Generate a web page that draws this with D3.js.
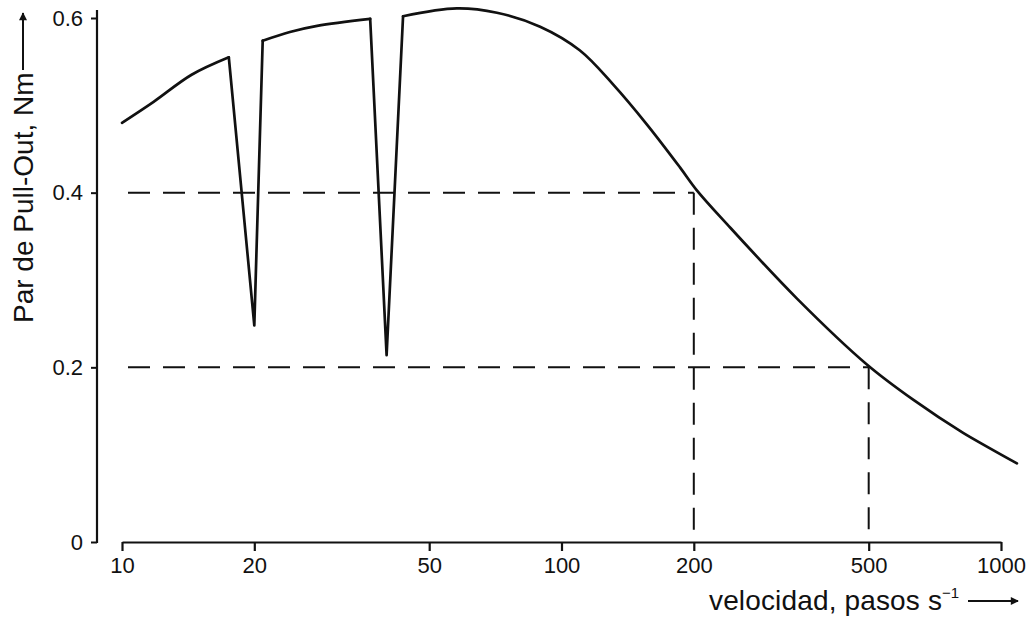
<!DOCTYPE html>
<html>
<head>
<meta charset="utf-8">
<script src="https://cdn.jsdelivr.net/npm/d3@7"></script>
<style>
body { margin: 0; background: #fff; }
svg { display: block; font-family: "Liberation Sans", Arial, sans-serif; }
</style>
</head>
<body>
<svg id="chart" width="1026" height="618"></svg>
<script>
'use strict';

// pull-out torque curve (speed in pasos/s, torque in Nm)
const speedA = [10, 11.8, 14.4, 17.5];
const torqueA = [0.48, 0.504, 0.535, 0.555];
const dipSpeed1 = [17.5, 20, 20.9];
const dipTorque1 = [0.555, 0.248, 0.574];
const speedB = [20.9, 24.1, 27.8, 36.7];
const torqueB = [0.574, 0.584, 0.591, 0.599];
const dipSpeed2 = [36.7, 40, 43.6];
const dipTorque2 = [0.599, 0.214, 0.602];
const speedC = [43.6, 57.8, 71.3, 89.4, 110, 131, 156.5, 186, 203, 238, 343, 496, 631, 820, 1087];
const torqueC = [0.602, 0.611, 0.606, 0.590, 0.563, 0.524, 0.478, 0.429, 0.403, 0.364, 0.279, 0.203, 0.163, 0.125, 0.090];

// dashed reading lines
const refSpeeds = [200, 500];
const refTorques = [0.4, 0.2];

// ticks
const xTicks = [10, 20, 50, 100, 200, 500, 1000];
const yTicks = [0, 0.2, 0.4, 0.6];
const yTickLabels = ['0', '0.2', '0.4', '0.6'];

(function () {
    const svg = d3.select('#chart');
    const font = '"Liberation Sans", Arial, sans-serif';
    const ink = '#111';

    const x = d3.scaleLog().domain([10, 1000]).range([122, 1001]);
    const y = d3.scaleLinear().domain([0, 0.6]).range([542, 18]);

    //x axis
    const gx = svg.append('g')
        .attr('transform', 'translate(0,' + y(0) + ')')
        .call(d3.axisBottom(x)
            .tickValues(xTicks)
            .tickFormat(d3.format('d'))
            .tickSize(9)
            .tickSizeOuter(0)
            .tickPadding(6));
    gx.attr('font-size', 22).attr('font-family', font);
    gx.select('.domain').attr('stroke', ink).attr('stroke-width', 2.2);
    gx.selectAll('.tick line').attr('stroke', ink).attr('stroke-width', 2.2);
    gx.selectAll('.tick text').attr('fill', ink);

    //y axis
    const gy = svg.append('g')
        .attr('transform', 'translate(97,0)')
        .call(d3.axisLeft(y)
            .tickValues(yTicks)
            .tickFormat((d, i) => yTickLabels[i])
            .tickSize(6)
            .tickPadding(8));
    gy.attr('font-size', 22).attr('font-family', font);
    gy.select('.domain').remove();
    gy.append('line')
        .attr('y1', y(0) + 1)
        .attr('y2', y(0.6) - 8)
        .attr('stroke', ink)
        .attr('stroke-width', 2.2);
    gy.selectAll('.tick line').attr('stroke', ink).attr('stroke-width', 2);
    gy.selectAll('.tick text').attr('fill', ink);

    //dashed reading lines
    const dash = svg.append('g')
        .attr('fill', 'none')
        .attr('stroke', ink)
        .attr('stroke-width', 2)
        .attr('stroke-dasharray', '22,13');
    refSpeeds.forEach((s, i) => {
        dash.append('line')
            .attr('x1', x(10) + 6).attr('x2', x(s))
            .attr('y1', y(refTorques[i])).attr('y2', y(refTorques[i]));
        dash.append('line')
            .attr('x1', x(s)).attr('x2', x(s))
            .attr('y1', y(refTorques[i])).attr('y2', y(0));
    });

    //curve
    const pairs = (s, t) => s.map((v, i) => [v, t[i]]);
    const smooth = d3.line().x(d => x(d[0])).y(d => y(d[1])).curve(d3.curveCatmullRom.alpha(0.5));
    const straight = d3.line().x(d => x(d[0])).y(d => y(d[1]));
    const curve = svg.append('g')
        .attr('fill', 'none')
        .attr('stroke', ink)
        .attr('stroke-width', 2.7)
        .attr('stroke-linecap', 'round')
        .attr('stroke-linejoin', 'round');
    [[speedA, torqueA], [speedB, torqueB], [speedC, torqueC]].forEach(p => {
        curve.append('path').attr('d', smooth(pairs(p[0], p[1])));
    });
    [[dipSpeed1, dipTorque1], [dipSpeed2, dipTorque2]].forEach(p => {
        curve.append('path').attr('d', straight(pairs(p[0], p[1])));
    });

    //arrow heads
    svg.append('defs').append('marker')
        .attr('id', 'head')
        .attr('viewBox', '0 0 10 10')
        .attr('refX', 9).attr('refY', 5)
        .attr('markerWidth', 10).attr('markerHeight', 8)
        .attr('markerUnits', 'userSpaceOnUse')
        .attr('orient', 'auto')
        .append('path')
        .attr('d', 'M0,0L10,5L0,10Z')
        .attr('fill', ink);

    //x title
    const xt = svg.append('text')
        .attr('x', 709).attr('y', 610)
        .attr('font-size', 28)
        .attr('letter-spacing', 0.15)
        .attr('font-family', font)
        .attr('fill', ink)
        .text('velocidad, pasos s');
    xt.append('tspan')
        .attr('font-size', 15)
        .attr('dy', -12)
        .attr('letter-spacing', 0)
        .text('\u22121');
    svg.append('line')
        .attr('x1', 968).attr('x2', 1018)
        .attr('y1', 601).attr('y2', 601)
        .attr('stroke', ink).attr('stroke-width', 2)
        .attr('marker-end', 'url(#head)');

    //y title
    svg.append('text')
        .attr('transform', 'translate(33,323) rotate(-90)')
        .attr('font-size', 28)
        .attr('font-family', font)
        .attr('fill', ink)
        .text('Par de Pull-Out, Nm');
    svg.append('line')
        .attr('x1', 23).attr('x2', 23)
        .attr('y1', 70).attr('y2', 13)
        .attr('stroke', ink).attr('stroke-width', 2)
        .attr('marker-end', 'url(#head)');
})();
</script>
</body>
</html>
